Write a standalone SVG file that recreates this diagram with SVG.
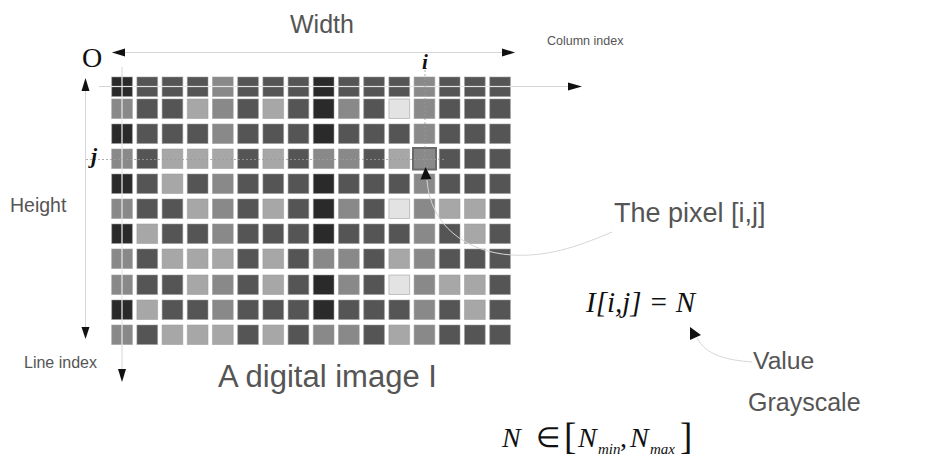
<svg xmlns="http://www.w3.org/2000/svg" width="930" height="457" viewBox="0 0 930 457">
<style>
.D{fill:#2a2a2a}.M{fill:#555555}.G{fill:#898989}.L{fill:#a7a7a7}.W{fill:#e3e3e3}
rect.c{stroke:#9a9a9a;stroke-opacity:.55;stroke-width:1}
.sans{font-family:"Liberation Sans",Arial,sans-serif;fill:#555}
.serif{font-family:"Liberation Serif","Times New Roman",serif;fill:#111}
.it{font-style:italic}
.bi{font-style:italic;font-weight:bold}
.ln{stroke:#d6d6d6;stroke-width:1;fill:none}
.over{stroke:#ffffff;stroke-opacity:.35;stroke-width:1.5;fill:none}
.dot{stroke:#9a9a9a;stroke-width:.8;stroke-dasharray:2 2;fill:none}
.ah{fill:#111}
</style>
<rect width="930" height="457" fill="#ffffff"/>
<g id="grid">
<g transform="translate(0,77)"><rect class="c D" x="111.7" width="20.7" height="19.5"/><rect class="c M" x="136.9" width="20.7" height="19.5"/><rect class="c M" x="162.1" width="20.7" height="19.5"/><rect class="c M" x="187.3" width="20.7" height="19.5"/><rect class="c G" x="212.5" width="20.7" height="19.5"/><rect class="c M" x="237.7" width="20.7" height="19.5"/><rect class="c M" x="262.9" width="20.7" height="19.5"/><rect class="c M" x="288.1" width="20.7" height="19.5"/><rect class="c D" x="313.3" width="20.7" height="19.5"/><rect class="c M" x="338.5" width="20.7" height="19.5"/><rect class="c M" x="363.7" width="20.7" height="19.5"/><rect class="c M" x="388.9" width="20.7" height="19.5"/><rect class="c G" x="414.1" width="20.7" height="19.5"/><rect class="c M" x="439.3" width="20.7" height="19.5"/><rect class="c M" x="464.5" width="20.7" height="19.5"/><rect class="c M" x="489.7" width="20.7" height="19.5"/></g>
<g transform="translate(0,99)"><rect class="c G" x="111.7" width="20.7" height="19.5"/><rect class="c M" x="136.9" width="20.7" height="19.5"/><rect class="c M" x="162.1" width="20.7" height="19.5"/><rect class="c L" x="187.3" width="20.7" height="19.5"/><rect class="c G" x="212.5" width="20.7" height="19.5"/><rect class="c M" x="237.7" width="20.7" height="19.5"/><rect class="c L" x="262.9" width="20.7" height="19.5"/><rect class="c M" x="288.1" width="20.7" height="19.5"/><rect class="c D" x="313.3" width="20.7" height="19.5"/><rect class="c G" x="338.5" width="20.7" height="19.5"/><rect class="c M" x="363.7" width="20.7" height="19.5"/><rect class="c W" x="388.9" width="20.7" height="19.5"/><rect class="c G" x="414.1" width="20.7" height="19.5"/><rect class="c M" x="439.3" width="20.7" height="19.5"/><rect class="c M" x="464.5" width="20.7" height="19.5"/><rect class="c M" x="489.7" width="20.7" height="19.5"/></g>
<g transform="translate(0,124)"><rect class="c D" x="111.7" width="20.7" height="19.5"/><rect class="c M" x="136.9" width="20.7" height="19.5"/><rect class="c M" x="162.1" width="20.7" height="19.5"/><rect class="c M" x="187.3" width="20.7" height="19.5"/><rect class="c G" x="212.5" width="20.7" height="19.5"/><rect class="c M" x="237.7" width="20.7" height="19.5"/><rect class="c M" x="262.9" width="20.7" height="19.5"/><rect class="c M" x="288.1" width="20.7" height="19.5"/><rect class="c D" x="313.3" width="20.7" height="19.5"/><rect class="c M" x="338.5" width="20.7" height="19.5"/><rect class="c M" x="363.7" width="20.7" height="19.5"/><rect class="c M" x="388.9" width="20.7" height="19.5"/><rect class="c G" x="414.1" width="20.7" height="19.5"/><rect class="c M" x="439.3" width="20.7" height="19.5"/><rect class="c M" x="464.5" width="20.7" height="19.5"/><rect class="c M" x="489.7" width="20.7" height="19.5"/></g>
<g transform="translate(0,149)"><rect class="c G" x="111.7" width="20.7" height="19.5"/><rect class="c M" x="136.9" width="20.7" height="19.5"/><rect class="c L" x="162.1" width="20.7" height="19.5"/><rect class="c L" x="187.3" width="20.7" height="19.5"/><rect class="c L" x="212.5" width="20.7" height="19.5"/><rect class="c M" x="237.7" width="20.7" height="19.5"/><rect class="c L" x="262.9" width="20.7" height="19.5"/><rect class="c M" x="288.1" width="20.7" height="19.5"/><rect class="c G" x="313.3" width="20.7" height="19.5"/><rect class="c G" x="338.5" width="20.7" height="19.5"/><rect class="c M" x="363.7" width="20.7" height="19.5"/><rect class="c L" x="388.9" width="20.7" height="19.5"/><rect class="c G" x="414.1" width="20.7" height="19.5"/><rect class="c M" x="439.3" width="20.7" height="19.5"/><rect class="c M" x="464.5" width="20.7" height="19.5"/><rect class="c M" x="489.7" width="20.7" height="19.5"/></g>
<g transform="translate(0,174)"><rect class="c D" x="111.7" width="20.7" height="19.5"/><rect class="c M" x="136.9" width="20.7" height="19.5"/><rect class="c L" x="162.1" width="20.7" height="19.5"/><rect class="c M" x="187.3" width="20.7" height="19.5"/><rect class="c G" x="212.5" width="20.7" height="19.5"/><rect class="c M" x="237.7" width="20.7" height="19.5"/><rect class="c M" x="262.9" width="20.7" height="19.5"/><rect class="c M" x="288.1" width="20.7" height="19.5"/><rect class="c D" x="313.3" width="20.7" height="19.5"/><rect class="c M" x="338.5" width="20.7" height="19.5"/><rect class="c M" x="363.7" width="20.7" height="19.5"/><rect class="c M" x="388.9" width="20.7" height="19.5"/><rect class="c G" x="414.1" width="20.7" height="19.5"/><rect class="c M" x="439.3" width="20.7" height="19.5"/><rect class="c M" x="464.5" width="20.7" height="19.5"/><rect class="c M" x="489.7" width="20.7" height="19.5"/></g>
<g transform="translate(0,199)"><rect class="c G" x="111.7" width="20.7" height="19.5"/><rect class="c M" x="136.9" width="20.7" height="19.5"/><rect class="c M" x="162.1" width="20.7" height="19.5"/><rect class="c L" x="187.3" width="20.7" height="19.5"/><rect class="c G" x="212.5" width="20.7" height="19.5"/><rect class="c M" x="237.7" width="20.7" height="19.5"/><rect class="c L" x="262.9" width="20.7" height="19.5"/><rect class="c M" x="288.1" width="20.7" height="19.5"/><rect class="c D" x="313.3" width="20.7" height="19.5"/><rect class="c G" x="338.5" width="20.7" height="19.5"/><rect class="c M" x="363.7" width="20.7" height="19.5"/><rect class="c W" x="388.9" width="20.7" height="19.5"/><rect class="c G" x="414.1" width="20.7" height="19.5"/><rect class="c L" x="439.3" width="20.7" height="19.5"/><rect class="c L" x="464.5" width="20.7" height="19.5"/><rect class="c M" x="489.7" width="20.7" height="19.5"/></g>
<g transform="translate(0,224)"><rect class="c D" x="111.7" width="20.7" height="19.5"/><rect class="c L" x="136.9" width="20.7" height="19.5"/><rect class="c M" x="162.1" width="20.7" height="19.5"/><rect class="c M" x="187.3" width="20.7" height="19.5"/><rect class="c G" x="212.5" width="20.7" height="19.5"/><rect class="c M" x="237.7" width="20.7" height="19.5"/><rect class="c M" x="262.9" width="20.7" height="19.5"/><rect class="c M" x="288.1" width="20.7" height="19.5"/><rect class="c D" x="313.3" width="20.7" height="19.5"/><rect class="c M" x="338.5" width="20.7" height="19.5"/><rect class="c M" x="363.7" width="20.7" height="19.5"/><rect class="c M" x="388.9" width="20.7" height="19.5"/><rect class="c G" x="414.1" width="20.7" height="19.5"/><rect class="c M" x="439.3" width="20.7" height="19.5"/><rect class="c L" x="464.5" width="20.7" height="19.5"/><rect class="c M" x="489.7" width="20.7" height="19.5"/></g>
<g transform="translate(0,249)"><rect class="c G" x="111.7" width="20.7" height="19.5"/><rect class="c M" x="136.9" width="20.7" height="19.5"/><rect class="c L" x="162.1" width="20.7" height="19.5"/><rect class="c L" x="187.3" width="20.7" height="19.5"/><rect class="c L" x="212.5" width="20.7" height="19.5"/><rect class="c M" x="237.7" width="20.7" height="19.5"/><rect class="c L" x="262.9" width="20.7" height="19.5"/><rect class="c M" x="288.1" width="20.7" height="19.5"/><rect class="c G" x="313.3" width="20.7" height="19.5"/><rect class="c G" x="338.5" width="20.7" height="19.5"/><rect class="c M" x="363.7" width="20.7" height="19.5"/><rect class="c L" x="388.9" width="20.7" height="19.5"/><rect class="c G" x="414.1" width="20.7" height="19.5"/><rect class="c M" x="439.3" width="20.7" height="19.5"/><rect class="c M" x="464.5" width="20.7" height="19.5"/><rect class="c M" x="489.7" width="20.7" height="19.5"/></g>
<g transform="translate(0,275)"><rect class="c G" x="111.7" width="20.7" height="19.5"/><rect class="c M" x="136.9" width="20.7" height="19.5"/><rect class="c M" x="162.1" width="20.7" height="19.5"/><rect class="c L" x="187.3" width="20.7" height="19.5"/><rect class="c G" x="212.5" width="20.7" height="19.5"/><rect class="c M" x="237.7" width="20.7" height="19.5"/><rect class="c L" x="262.9" width="20.7" height="19.5"/><rect class="c M" x="288.1" width="20.7" height="19.5"/><rect class="c D" x="313.3" width="20.7" height="19.5"/><rect class="c G" x="338.5" width="20.7" height="19.5"/><rect class="c M" x="363.7" width="20.7" height="19.5"/><rect class="c W" x="388.9" width="20.7" height="19.5"/><rect class="c G" x="414.1" width="20.7" height="19.5"/><rect class="c L" x="439.3" width="20.7" height="19.5"/><rect class="c L" x="464.5" width="20.7" height="19.5"/><rect class="c M" x="489.7" width="20.7" height="19.5"/></g>
<g transform="translate(0,300)"><rect class="c D" x="111.7" width="20.7" height="19.5"/><rect class="c L" x="136.9" width="20.7" height="19.5"/><rect class="c M" x="162.1" width="20.7" height="19.5"/><rect class="c M" x="187.3" width="20.7" height="19.5"/><rect class="c G" x="212.5" width="20.7" height="19.5"/><rect class="c M" x="237.7" width="20.7" height="19.5"/><rect class="c M" x="262.9" width="20.7" height="19.5"/><rect class="c M" x="288.1" width="20.7" height="19.5"/><rect class="c D" x="313.3" width="20.7" height="19.5"/><rect class="c M" x="338.5" width="20.7" height="19.5"/><rect class="c M" x="363.7" width="20.7" height="19.5"/><rect class="c M" x="388.9" width="20.7" height="19.5"/><rect class="c G" x="414.1" width="20.7" height="19.5"/><rect class="c M" x="439.3" width="20.7" height="19.5"/><rect class="c L" x="464.5" width="20.7" height="19.5"/><rect class="c M" x="489.7" width="20.7" height="19.5"/></g>
<g transform="translate(0,325)"><rect class="c G" x="111.7" width="20.7" height="19.5"/><rect class="c M" x="136.9" width="20.7" height="19.5"/><rect class="c L" x="162.1" width="20.7" height="19.5"/><rect class="c L" x="187.3" width="20.7" height="19.5"/><rect class="c L" x="212.5" width="20.7" height="19.5"/><rect class="c M" x="237.7" width="20.7" height="19.5"/><rect class="c L" x="262.9" width="20.7" height="19.5"/><rect class="c M" x="288.1" width="20.7" height="19.5"/><rect class="c G" x="313.3" width="20.7" height="19.5"/><rect class="c G" x="338.5" width="20.7" height="19.5"/><rect class="c M" x="363.7" width="20.7" height="19.5"/><rect class="c L" x="388.9" width="20.7" height="19.5"/><rect class="c G" x="414.1" width="20.7" height="19.5"/><rect class="c M" x="439.3" width="20.7" height="19.5"/><rect class="c M" x="464.5" width="20.7" height="19.5"/><rect class="c M" x="489.7" width="20.7" height="19.5"/></g>
</g>
<g id="pixel-ij">
<rect x="413" y="148" width="23" height="21.5" fill="#8a8a8a" stroke="#6a6a6a" stroke-width="2"/>
</g>
<g id="connectors">
<line class="ln" x1="112" y1="52.5" x2="515" y2="52.5"/>
<polygon class="ah" points="112,52.5 125,48.5 125,56.5"/>
<polygon class="ah" points="515,52.5 502,48.5 502,56.5"/>
<line class="ln" x1="99" y1="86.5" x2="570" y2="86.5"/>
<line class="over" x1="111" y1="86.5" x2="511" y2="86.5"/>
<polygon class="ah" points="582,86.5 568,82.5 568,90.5"/>
<line class="ln" x1="85.5" y1="80" x2="85.5" y2="337"/>
<polygon class="ah" points="85.5,78 81.5,91 89.5,91"/>
<polygon class="ah" points="85.5,339 81.5,327 89.5,327"/>
<line class="ln" x1="122" y1="67" x2="122" y2="372"/>
<line class="over" x1="122" y1="77" x2="122" y2="345"/>
<polygon class="ah" points="122,382 118,369 126,369"/>
<line class="dot" x1="425" y1="62" x2="425" y2="170"/>
<line class="dot" x1="86" y1="159.5" x2="445" y2="159.5"/>
<path class="ln" d="M612,232 C575,248 545,257 512,255 C465,252 430,225 427,180"/>
<polygon class="ah" points="425.5,167 420.5,179.5 431.5,179"/>
<path class="ln" d="M752,362 C726,360 706,355 697,338"/>
<polygon class="ah" points="690,327 690,340 701,335"/>
</g>
<g id="label-width"><text class="sans" x="290" y="33" font-size="25">Width</text></g>
<g id="label-column-index"><text class="sans" x="547" y="45" font-size="12.5">Column index</text></g>
<g id="label-origin"><text class="serif" x="82" y="66.5" font-size="28">O</text></g>
<g id="label-i"><text class="serif bi" x="422" y="69" font-size="21">i</text></g>
<g id="label-j"><text class="serif bi" x="91" y="163" font-size="22">j</text></g>
<g id="label-height"><text class="sans" x="10" y="212" font-size="19.5">Height</text></g>
<g id="label-line-index"><text class="sans" x="24" y="368" font-size="16">Line index</text></g>
<g id="label-image"><text class="sans" x="218" y="387" font-size="31">A digital image I</text></g>
<g id="label-pixel"><text class="sans" x="614" y="222" font-size="27">The pixel [i,j]</text></g>
<g id="formula-value"><text class="serif it" x="586" y="312" font-size="29">I[i,j] = N</text></g>
<g id="label-value"><text class="sans" x="753" y="369" font-size="24.7">Value</text></g>
<g id="label-grayscale"><text class="sans" x="748" y="411" font-size="25">Grayscale</text></g>
<g id="formula-range">
<text class="serif" y="447" font-size="28"><tspan x="502" font-style="italic">N</tspan><tspan x="536">∈</tspan><tspan x="564" dy="2" font-size="37">[</tspan><tspan x="578" dy="-2" font-style="italic">N</tspan><tspan x="598" dy="7" font-size="15" font-style="italic">min</tspan><tspan x="620" dy="-7">,</tspan><tspan x="630" font-style="italic">N</tspan><tspan x="650" dy="7" font-size="15" font-style="italic">max</tspan><tspan x="680" dy="-5" font-size="37">]</tspan></text>
</g>
</svg>
